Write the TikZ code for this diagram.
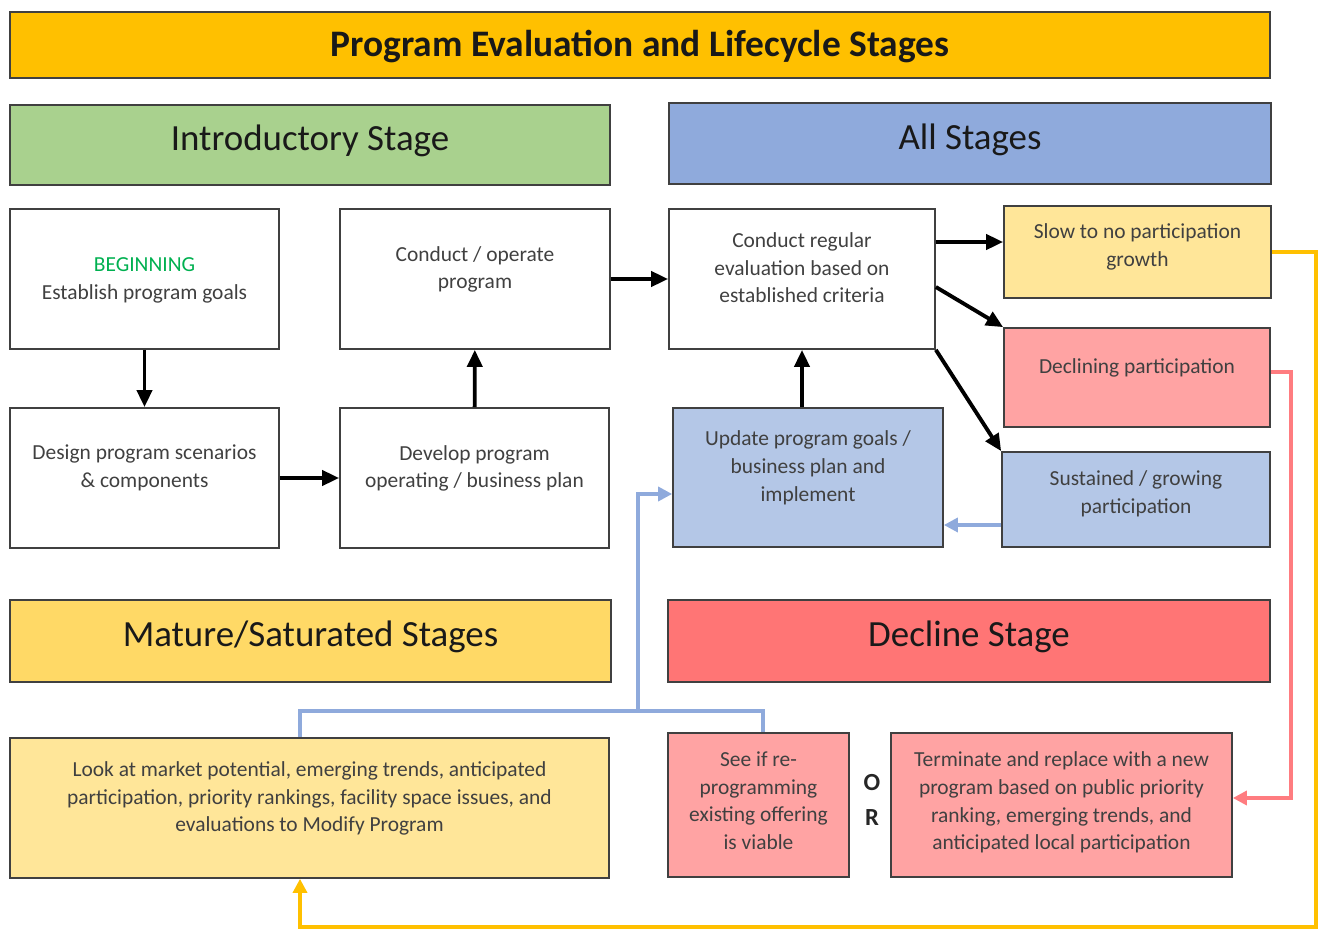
\documentclass[tikz,border=0pt]{standalone}
\usepackage{fontspec}
\setmainfont{Carlito}
\usetikzlibrary{arrows.meta, positioning, calc}
\definecolor{ttlfill}{HTML}{FFC000}
\definecolor{introfill}{HTML}{A9D18E}
\definecolor{allfill}{HTML}{8FAADC}
\definecolor{lblue}{HTML}{B4C7E7}
\definecolor{lyellow}{HTML}{FFE699}
\definecolor{matfill}{HTML}{FFD966}
\definecolor{decfill}{HTML}{FF7575}
\definecolor{lpink}{HTML}{FFA3A3}
\definecolor{edge}{HTML}{404040}
\definecolor{begingreen}{HTML}{00B050}
\definecolor{bline}{HTML}{8FAADC}
\definecolor{rline}{HTML}{FF7C80}

\begin{document}
\begin{tikzpicture}[
  x=0.02cm, y=-0.02cm,
  box/.style={draw=edge, line width=1pt, align=center, text=edge,
              font=\fontsize{12.2}{15.9}\selectfont, text depth=13pt, inner sep=2pt},
  hdr/.style={draw=edge, line width=1pt, align=center, text=black!90,
              font=\fontsize{21}{25}\selectfont, text depth=8pt},
  arr/.style={-{Triangle[length=3.4mm, width=3mm]}, line width=2.2pt, draw=black},
  barr/.style={-{Triangle[length=2.8mm, width=2.8mm]}, line width=1.9pt, draw=bline},
  yarr/.style={-{Triangle[length=2.8mm, width=2.8mm]}, line width=1.9pt, draw=ttlfill},
  rarr/.style={-{Triangle[length=2.8mm, width=2.8mm]}, line width=1.9pt, draw=rline}
]
\useasboundingbox (0,0) rectangle (1320,929);

% ------------------------------------------------------------ headers
\node[hdr, fill=ttlfill, minimum width=25.2cm, minimum height=1.32cm, text depth=2pt,
      font=\fontsize{21.3}{25}\selectfont\bfseries] (title) at (640,45)
  {Program Evaluation and Lifecycle Stages};
\node[hdr, fill=introfill, minimum width=12cm, minimum height=1.6cm] (intro) at (310,145)
  {Introductory Stage};
\node[hdr, fill=allfill, minimum width=12.04cm, minimum height=1.62cm] (allst) at (970,143.5)
  {All Stages};
\node[hdr, fill=matfill, minimum width=12.02cm, minimum height=1.64cm] (mature) at (310.5,641)
  {Mature/Saturated Stages};
\node[hdr, fill=decfill, minimum width=12.04cm, minimum height=1.64cm] (declst) at (969,641)
  {Decline Stage};

% ------------------------------------------------------------ introductory
\node[box, minimum width=5.38cm, minimum height=2.8cm, text depth=0pt] (begin) at (144.5,279)
  {\textcolor{begingreen}{BEGINNING}\\Establish program goals};
\node[box, minimum width=5.4cm, minimum height=2.8cm] (operate) at (475,279)
  {Conduct / operate\\program};
\node[box, minimum width=5.38cm, minimum height=2.8cm] (design) at (144.5,478)
  {Design program scenarios\\\& components};
\node[box, minimum width=5.38cm, minimum height=2.8cm] (develop) at (474.5,478)
  {Develop program\\operating / business plan};

% ------------------------------------------------------------ all stages
\node[box, minimum width=5.32cm, minimum height=2.8cm] (evaluate) at (802,279)
  {Conduct regular\\evaluation based on\\established criteria};
\node[box, fill=lyellow, minimum width=5.34cm, minimum height=1.84cm, text depth=8pt] (slow) at (1137.5,252)
  {Slow to no participation\\growth};
\node[box, fill=lpink, minimum width=5.32cm, minimum height=1.98cm] (declining) at (1137,377.5)
  {Declining participation};
\node[box, fill=lblue, minimum width=5.4cm, minimum height=2.78cm] (update) at (808,477.5)
  {Update program goals /\\business plan and\\implement};
\node[box, fill=lblue, minimum width=5.36cm, minimum height=1.9cm, text depth=8pt] (sustain) at (1136,499.5)
  {Sustained / growing\\participation};

% ------------------------------------------------------------ mature / decline
\node[box, fill=lyellow, minimum width=11.98cm, minimum height=2.8cm] (market) at (309.5,808)
  {Look at market potential, emerging trends, anticipated\\participation, priority rankings, facility space issues, and\\evaluations to Modify Program};
\node[box, fill=lpink, minimum width=3.62cm, minimum height=2.88cm, text depth=5pt] (seeif) at (758.5,805)
  {See if re-\\programming\\existing offering\\is viable};
\node[box, fill=lpink, minimum width=6.82cm, minimum height=2.88cm, text depth=5pt] (terminate) at (1061.5,805)
  {Terminate and replace with a new\\program based on public priority\\ranking, emerging trends, and\\anticipated local participation};
\node[font=\fontsize{14}{20}\selectfont\bfseries, align=center, text=black!85] (orlbl) at (872,800)
  {O\\R};

% ------------------------------------------------------------ black flow
\draw[arr] (begin) -- (design);
\draw[arr] (design) -- (develop);
\draw[arr] (develop) -- (operate);
\draw[arr] (operate) -- (evaluate);
\draw[arr] ([yshift=0.74cm]evaluate.east) -- ([yshift=0.74cm]evaluate.east -| slow.west);
\draw[arr] ([yshift=-0.16cm]evaluate.east) -- (declining.north west);
\draw[arr] (evaluate.south east) -- (sustain.north west);
\draw[arr] (update.north -| evaluate.south) -- (evaluate.south);

% ------------------------------------------------------------ coloured returns
\coordinate (junc) at (638,711);
\coordinate (ycorner) at (1316,927);
\coordinate (rcorner) at (1291,600);
\draw[barr] ([yshift=-0.51cm]sustain.west) -- ([yshift=-0.51cm]sustain.west -| update.east);
\draw[barr] ([xshift=-0.19cm]market.north) |- (junc) |- ([yshift=-0.33cm]update.west);
\draw[bline, line width=1.9pt] ([xshift=0.09cm]seeif.north) |- (junc);
\draw[yarr] (slow.east) -| (ycorner) -| ([xshift=-0.19cm]market.south);
\draw[rarr] ([yshift=0.11cm]declining.east) -| (rcorner) |- ([yshift=0.14cm]terminate.east);

\end{tikzpicture}
\end{document}
